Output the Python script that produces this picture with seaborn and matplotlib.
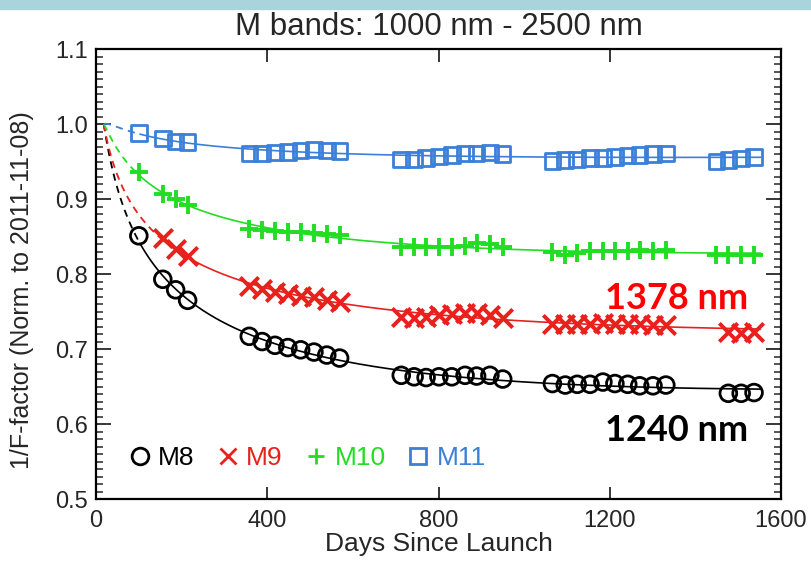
import numpy as np
import pandas as pd
import matplotlib
matplotlib.use('Agg')
import matplotlib.pyplot as plt
import seaborn as sns
from matplotlib.lines import Line2D
from matplotlib.patches import Rectangle
from matplotlib.ticker import MultipleLocator, FormatStrFormatter

# Days since launch of each measurement group
c1 = [100, 156, 186, 214]
c2 = [358, 388, 418, 448, 478, 509, 539, 569]
c3 = [713, 743, 771, 801, 831, 862, 889, 920, 950]
c4 = [1066, 1096, 1124, 1154, 1184, 1212, 1242, 1270, 1301, 1331]
c5 = [1449, 1477, 1507, 1537]
norm_day = 18

m8_days = c1 + c2 + c3 + c4 + c5[1:]
m8_vals = [0.851, 0.793, 0.779, 0.765,
           0.717, 0.710, 0.705, 0.702, 0.699, 0.696, 0.692, 0.688,
           0.665, 0.663, 0.662, 0.663, 0.663, 0.665, 0.664, 0.665, 0.660,
           0.654, 0.652, 0.653, 0.653, 0.656, 0.654, 0.653, 0.651, 0.651, 0.652,
           0.641, 0.641, 0.642]

m9_days = c1[1:] + c2 + c3 + c4 + c5[1:]
m9_vals = [0.848, 0.833, 0.824,
           0.784, 0.780, 0.776, 0.773, 0.771, 0.769, 0.765, 0.763,
           0.743, 0.741, 0.743, 0.745, 0.747, 0.748, 0.748, 0.745, 0.742,
           0.734, 0.733, 0.734, 0.734, 0.735, 0.734, 0.733, 0.733, 0.732, 0.732,
           0.723, 0.722, 0.723]

m10_days = c1 + c2 + c3 + c4 + c5
m10_vals = [0.936, 0.907, 0.900, 0.892,
            0.860, 0.859, 0.857, 0.856, 0.856, 0.855, 0.853, 0.852,
            0.836, 0.836, 0.836, 0.836, 0.836, 0.837, 0.841, 0.840, 0.836,
            0.830, 0.826, 0.828, 0.831, 0.831, 0.831, 0.831, 0.832, 0.831, 0.832,
            0.825, 0.825, 0.825, 0.826]

m11_days = c1 + c2 + c3 + c4 + c5
m11_vals = [0.988, 0.981, 0.977, 0.976,
            0.961, 0.961, 0.962, 0.963, 0.965, 0.966, 0.965, 0.964,
            0.953, 0.953, 0.955, 0.957, 0.959, 0.961, 0.961, 0.962, 0.960,
            0.951, 0.952, 0.953, 0.955, 0.955, 0.956, 0.958, 0.959, 0.960, 0.961,
            0.950, 0.952, 0.954, 0.956]

bands = ['M8', 'M9', 'M10', 'M11']
colors = ['black', '#e8211d', '#22dd22', '#3a7fd8']
markers = ['o', 'x', '+', 's']

sns.set_style('ticks')
plt.rcParams['font.family'] = ['Liberation Sans', 'DejaVu Sans']

fig = plt.figure(figsize=(8.11, 5.62), dpi=100)
fig.patches.append(Rectangle((0, 1 - 9 / 562), 1, 9 / 562, transform=fig.transFigure,
                             color='#a9d4dc', zorder=0))
ax = fig.add_axes([0.1184, 0.112, 0.8446, 0.8007])


def fit_curve(days, vals):
    # smooth trend through the measurements, anchored at the normalisation day
    t = np.log(np.r_[norm_day, days])
    v = np.r_[1.0, vals]
    w = np.r_[30.0, np.ones(len(days))]
    coef = np.polyfit(t, v, 3, w=w)
    tt = np.linspace(norm_day, days[-1] + 15, 400)
    return tt, np.polyval(coef, np.log(tt))


series = [(m8_days, m8_vals), (m9_days, m9_vals), (m10_days, m10_vals), (m11_days, m11_vals)]
for (d, v), name, col, mk in zip(series, bands, colors, markers):
    tt, yy = fit_curve(d, v)
    early = tt <= d[0]
    ax.plot(tt[early], yy[early], color=col, lw=1.3, ls=(0, (4, 3)))
    ax.plot(tt[~early], yy[~early], color=col, lw=1.2)
    df = pd.DataFrame({'day': d, 'val': v})
    if mk in ('o', 's'):
        sns.scatterplot(data=df, x='day', y='val', ax=ax, marker=mk, s=145 if mk == 'o' else 125,
                        facecolor='none', edgecolor=col, linewidth=2.0, zorder=3)
    else:
        sns.scatterplot(data=df, x='day', y='val', ax=ax, marker=mk, s=175,
                        color=col, linewidth=2.8, zorder=3)

ax.set_xlim(0, 1600)
ax.set_ylim(0.5, 1.1)
ax.xaxis.set_major_locator(MultipleLocator(400))
ax.yaxis.set_major_locator(MultipleLocator(0.1))
ax.yaxis.set_minor_locator(MultipleLocator(0.01))
ax.yaxis.set_major_formatter(FormatStrFormatter('%.1f'))
ax.tick_params(axis='both', which='both', direction='in', top=True, right=True,
               labelsize=17, width=1.3, pad=6)
ax.tick_params(axis='x', which='major', length=9, pad=8)
ax.tick_params(axis='y', which='major', length=11)
ax.tick_params(axis='y', which='minor', length=5, width=1.1)
for sp in ax.spines.values():
    sp.set_linewidth(1.6)
    sp.set_color('black')

ax.set_title('M bands: 1000 nm - 2500 nm', fontsize=22.5, pad=10)
ax.set_xlabel('Days Since Launch', fontsize=19, labelpad=0)
ax.set_ylabel('1/F-factor (Norm. to 2011-11-08)', fontsize=18)
ax.yaxis.set_label_coords(-0.09, 0.465)

ax.text(1523, 0.768, '1378 nm', color='#ff0000', fontsize=26, fontweight='bold',
        family=['Lato', 'DejaVu Sans'], ha='right', va='center')
ax.text(1523, 0.592, '1240 nm', color='black', fontsize=26, fontweight='bold',
        family=['Lato', 'DejaVu Sans'], ha='right', va='center')

handles = [Line2D([], [], ls='none', marker=mk, color=col, mec=col,
                  mfc='none', ms=12, mew=2.0, label=name)
           for name, col, mk in zip(bands, colors, markers)]
ax.legend(handles=handles, loc='lower left', bbox_to_anchor=(0.012, 0.012), ncol=4,
          frameon=False, handlelength=0.9, handletextpad=0.25, columnspacing=0.8,
          labelcolor='linecolor', fontsize=19)

fig.savefig('out.png', dpi=100)
